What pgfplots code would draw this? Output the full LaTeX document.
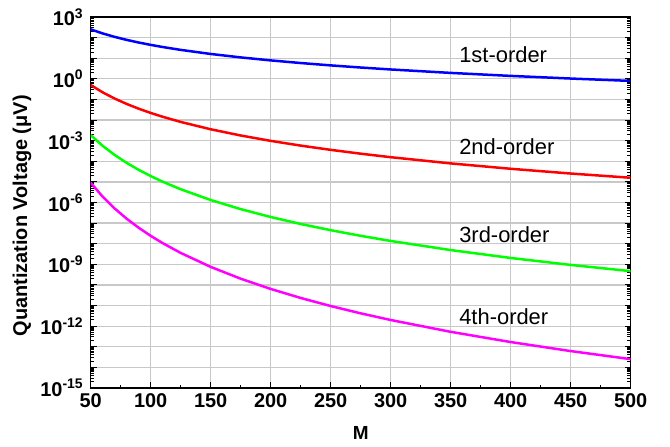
\documentclass[border=0pt]{standalone}
\usepackage{fontspec}
\setmainfont{Liberation Sans}
\usepackage{pgfplots}
\pgfplotsset{compat=1.18}
\definecolor{gridgray}{RGB}{200,200,200}
\definecolor{cblue}{RGB}{0,0,255}
\definecolor{cred}{RGB}{255,0,0}
\definecolor{cgreen}{RGB}{0,255,0}
\definecolor{cmag}{RGB}{255,0,255}
\newcommand{\ytl}[1]{\textbf{10\textsuperscript{#1}}}
\begin{document}
\begin{tikzpicture}
\begin{axis}[
  at={(0,0)}, anchor=south west,
  scale only axis, width=540bp, height=371bp,
  xmin=50, xmax=500, ymode=log, ymin=1e-15, ymax=1e3,
  xtick={50,100,150,200,250,300,350,400,450,500},
  xticklabels={50,100,150,200,250,300,350,400,450,500},
  minor x tick num=1,
  ytick={1e-15,1e-14,1e-13,1e-12,1e-11,1e-10,1e-9,1e-8,1e-7,1e-6,1e-5,1e-4,1e-3,1e-2,1e-1,1,1e1,1e2,1e3},
  yticklabels={\ytl{-15},,,\ytl{-12},,,\ytl{-9},,,\ytl{-6},,,\ytl{-3},,,\ytl{0},,,\ytl{3}},
  grid=major, major grid style={gridgray, line width=1.3bp},
  tick align=inside, xtick pos=bottom, ytick pos=both,
  axis line style={line width=1.3bp},
  major tick length=6bp, minor tick length=3.5bp,
  every tick/.style={black, line width=1bp},
  xticklabel style={font=\fontsize{20}{20}\selectfont\bfseries, yshift=-2bp},
  yticklabel style={font=\fontsize{20}{20}\selectfont\bfseries, xshift=-4bp},
  xlabel={\textbf{M}},
  ylabel={\textbf{Quantization Voltage (μV)}},
  xlabel style={font=\fontsize{19}{19}\selectfont, at={(axis description cs:0.5,-0.121)}, anchor=center},
  ylabel style={font=\fontsize{20}{20}\selectfont, at={(axis description cs:-0.127,0.464)}, anchor=center},
  clip=true,
]
\addplot[cblue, line width=2.5bp] coordinates {
(50,251.2)(60,159.2)(70,108.3)(80,77.6)(90,57.8)(100,44.4)(110,35.0)(125,25.4)(150,16.1)(175,10.96)(200,7.85)(225,5.85)(250,4.49)(275,3.54)(300,2.85)(350,1.94)(400,1.388)(450,1.034)(500,0.794)};
\addplot[cred, line width=2.5bp] coordinates {
(50,0.501)(60,0.2207)(70,0.1103)(80,6.046e-2)(90,3.558e-2)(100,2.215e-2)(110,1.443e-2)(125,8.115e-3)(150,3.573e-3)(175,1.785e-3)(200,9.788e-4)(225,5.761e-4)(250,3.586e-4)(275,2.335e-4)(300,1.578e-4)(350,7.889e-5)(400,4.326e-5)(450,2.546e-5)(500,1.585e-5)};
\addplot[cgreen, line width=2.5bp] coordinates {
(50,1.862e-3)(60,5.588e-4)(70,2.021e-4)(80,8.370e-5)(90,3.847e-5)(100,1.920e-5)(110,1.023e-5)(125,4.401e-6)(150,1.321e-6)(175,4.777e-7)(200,1.979e-7)(225,9.095e-8)(250,4.538e-8)(275,2.419e-8)(300,1.362e-8)(350,4.925e-9)(400,2.040e-9)(450,9.376e-10)(500,4.677e-10)};
\addplot[cmag, line width=2.5bp] coordinates {
(50,9.120e-6)(60,1.915e-6)(70,5.118e-7)(80,1.632e-7)(90,5.955e-8)(100,2.416e-8)(110,1.069e-8)(125,3.578e-9)(150,7.511e-10)(175,2.008e-10)(200,6.402e-11)(225,2.336e-11)(250,9.480e-12)(275,4.193e-12)(300,1.991e-12)(350,5.320e-13)(400,1.696e-13)(450,6.190e-14)(500,2.512e-14)};
\node[anchor=west, inner sep=0pt, font=\fontsize{22}{22}\selectfont] at (axis cs:357,14.3) {1st-order};
\node[anchor=west, inner sep=0pt, font=\fontsize{22}{22}\selectfont] at (axis cs:357,5.06e-4) {2nd-order};
\node[anchor=west, inner sep=0pt, font=\fontsize{22}{22}\selectfont] at (axis cs:357,2.63e-8) {3rd-order};
\node[anchor=west, inner sep=0pt, font=\fontsize{22}{22}\selectfont] at (axis cs:357,2.82e-12) {4th-order};
\end{axis}
\pgfresetboundingbox
\path[use as bounding box] (-90.7bp,-59bp) rectangle (579.3bp,388bp);
\end{tikzpicture}
\end{document}
